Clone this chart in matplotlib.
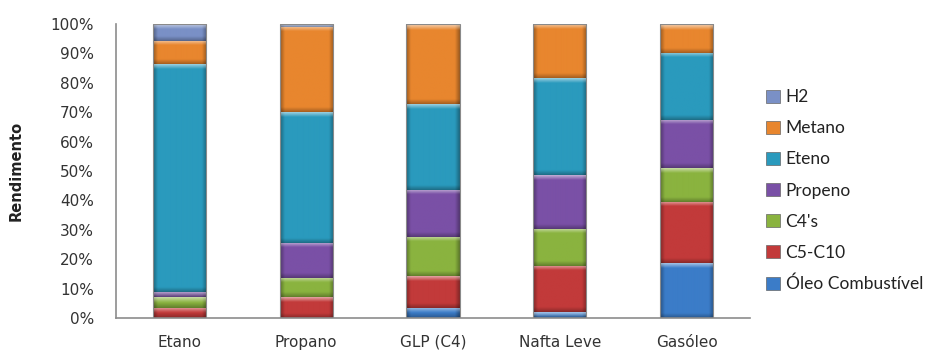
import numpy as np
import matplotlib
matplotlib.use("Agg")
import matplotlib.pyplot as plt
from matplotlib.patches import Patch
from matplotlib.ticker import FuncFormatter
from matplotlib.colors import to_rgb

# cargas e rendimentos (%) por produto
cargas = ["Etano", "Propano", "GLP (C4)", "Nafta Leve", "Gasóleo"]
produtos = ["Óleo Combustível", "C5-C10", "C4's", "Propeno", "Eteno", "Metano", "H2"]
oleo    = [0.0,  0.0,  3.5,  1.9, 18.6]
c5_c10  = [3.5,  7.0, 10.8, 15.8, 20.8]
c4s     = [3.5,  6.5, 13.4, 12.7, 11.5]
propeno = [1.8, 12.0, 16.0, 18.2, 16.4]
eteno   = [77.5, 44.5, 29.2, 32.9, 22.9]
metano  = [8.0, 29.0, 26.7, 18.2,  9.5]
h2      = [5.7,  1.0,  0.4,  0.3,  0.3]

series = [oleo, c5_c10, c4s, propeno, eteno, metano, h2]
cores = ['#3B7CC8', '#C23A3A', '#8AB33F', '#7A50A6', '#2A9ABD', '#E8862E', '#7A90C6']

fig = plt.figure(figsize=(9.27, 3.6), dpi=100)
ax = fig.add_axes([116/927, 42/360, 634/927, 294/360])

largura = 0.42
px_x = 634 / 5.0          # pixels por categoria
px_y = 294 / 100.0        # pixels por ponto percentual


def segmento(ax, x0, y0, w, h, cor):
    # bloco com efeito de chanfro (claro em cima, escuro nas bordas)
    if h <= 0:
        return
    nx = max(int(round(w * px_x)), 2)
    ny = max(int(round(h * px_y)), 2)
    c = np.array(to_rgb(cor))
    xx = np.arange(nx) + 0.5
    yy = np.arange(ny) + 0.5
    X, Y = np.meshgrid(xx, yy)
    d_lado = np.minimum(X, nx - X)
    d_top = Y
    d_base = ny - Y
    b = 5.0
    img = np.tile(c, (ny, nx, 1))
    f_lado = np.clip(1 - d_lado / b, 0, 1)[..., None]
    f_top = np.clip(1 - d_top / b, 0, 1)[..., None]
    f_base = np.clip(1 - d_base / b, 0, 1)[..., None]
    img = img * (1 - 0.35 * f_lado)
    img = img * (1 - 0.3 * f_base)
    img = img + (1 - img) * 0.55 * f_top
    img = np.clip(img, 0, 1)
    # linha 0 da imagem fica no topo do bloco
    ax.imshow(img, extent=(x0, x0 + w, y0, y0 + h), origin='upper',
              aspect='auto', interpolation='bilinear', zorder=2)


x = np.arange(len(cargas))
base = np.zeros(len(cargas))
for valores, cor in zip(series, cores):
    v = np.array(valores)
    for i in range(len(cargas)):
        segmento(ax, x[i] - largura / 2, base[i], largura, v[i], cor)
    base += v

# contorno das barras
ax.bar(x, base, width=largura, bottom=0, facecolor='none',
       edgecolor='#8a8a8a', linewidth=0.8, zorder=3)

ax.set_xlim(-0.5, 4.5)
ax.set_ylim(0, 100)
ax.set_yticks(np.arange(0, 101, 10))
ax.yaxis.set_major_formatter(FuncFormatter(lambda v, p: "%d%%" % v))
ax.set_xticks(x)
ax.set_xticklabels(cargas)
ax.tick_params(axis='both', length=0, labelsize=11, colors='#333333')
ax.tick_params(axis='y', pad=16)
ax.tick_params(axis='x', pad=12)
for s in ['top', 'right']:
    ax.spines[s].set_visible(False)
for s in ['left', 'bottom']:
    ax.spines[s].set_color('#8c8c8c')
    ax.spines[s].set_linewidth(1.2)

ax.set_ylabel("Rendimento", fontsize=10.5, fontweight='bold', color='#222222')
ax.yaxis.set_label_coords(-0.145, 0.5)

# legenda na ordem inversa (H2 no topo)
handles = [Patch(facecolor=c, edgecolor='#666666', linewidth=0.5) for c in cores]
fig.legend(handles[::-1], produtos[::-1], loc='center left',
           bbox_to_anchor=(750/927, 0.47), frameon=False,
           prop={'family': 'Lato', 'size': 12.5}, labelspacing=0.87,
           handlelength=0.8, handleheight=0.8, handletextpad=0.35,
           labelcolor='#222222')

fig.savefig("out.png", dpi=100)
